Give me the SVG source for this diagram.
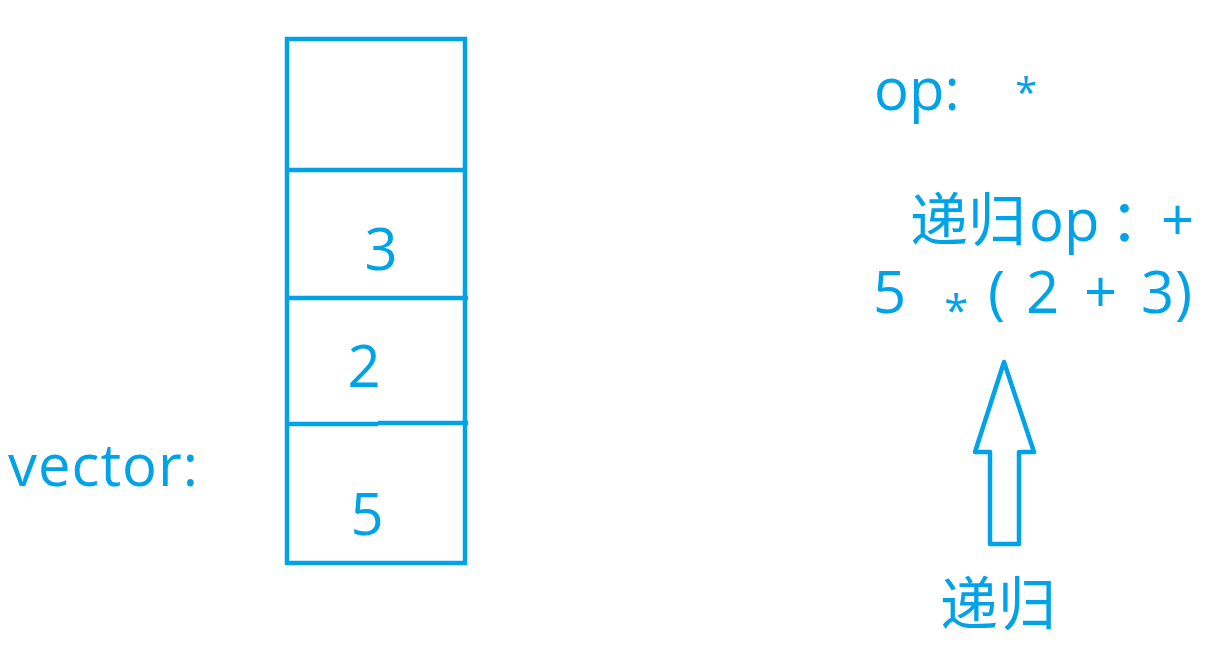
<svg xmlns="http://www.w3.org/2000/svg" width="1222" height="652" viewBox="0 0 1222 652">
<style>
.t{font-family:"Open Sans","Noto Sans CJK SC",sans-serif;fill:#00a2e8;font-size:58px}
.s{fill:none;stroke:#00a2e8;stroke-width:4.5}
</style>
<rect width="1222" height="652" fill="#fff"/>
<g id="stack">
<rect class="s" x="287" y="39" width="178" height="524"/>
<line class="s" x1="287" y1="170" x2="465" y2="170"/>
<line class="s" x1="289" y1="298" x2="468" y2="298"/>
<line class="s" x1="287" y1="424" x2="378" y2="424"/>
<line class="s" x1="378" y1="423" x2="468" y2="423"/>
<text class="t" x="381" y="270" text-anchor="middle">3</text>
<text class="t" x="364" y="387" text-anchor="middle">2</text>
<text class="t" x="367" y="535" text-anchor="middle">5</text>
</g>
<g id="vector-label"><text class="t" x="8" y="486" font-size="57" textLength="190" lengthAdjust="spacing">vector:</text></g>
<g id="op"><text class="t" y="110"><tspan x="874">op:</tspan><tspan x="1015" y="107" font-size="40">*</tspan></text></g>
<g id="rec-op">
<text class="t" y="241"><tspan x="910">递归</tspan><tspan x="1029">op</tspan><tspan x="1110">：</tspan><tspan x="1161">+</tspan></text>
</g>
<g id="expr">
<text class="t" y="313" font-size="63"><tspan x="873">5</tspan><tspan x="944" y="326" font-size="44">*</tspan><tspan x="988" y="313">(</tspan><tspan x="1026">2</tspan><tspan x="1084">+</tspan><tspan x="1141">3</tspan><tspan x="1175">)</tspan></text>
</g>
<g id="connectors">
<path class="s" d="M1004,362 L1034,452 L1019,452 L1019,544 L990,544 L990,452 L975,452 Z" stroke-linejoin="round"/>
</g>
<g id="rec"><text class="t" x="940" y="625">递归</text></g>
</svg>
